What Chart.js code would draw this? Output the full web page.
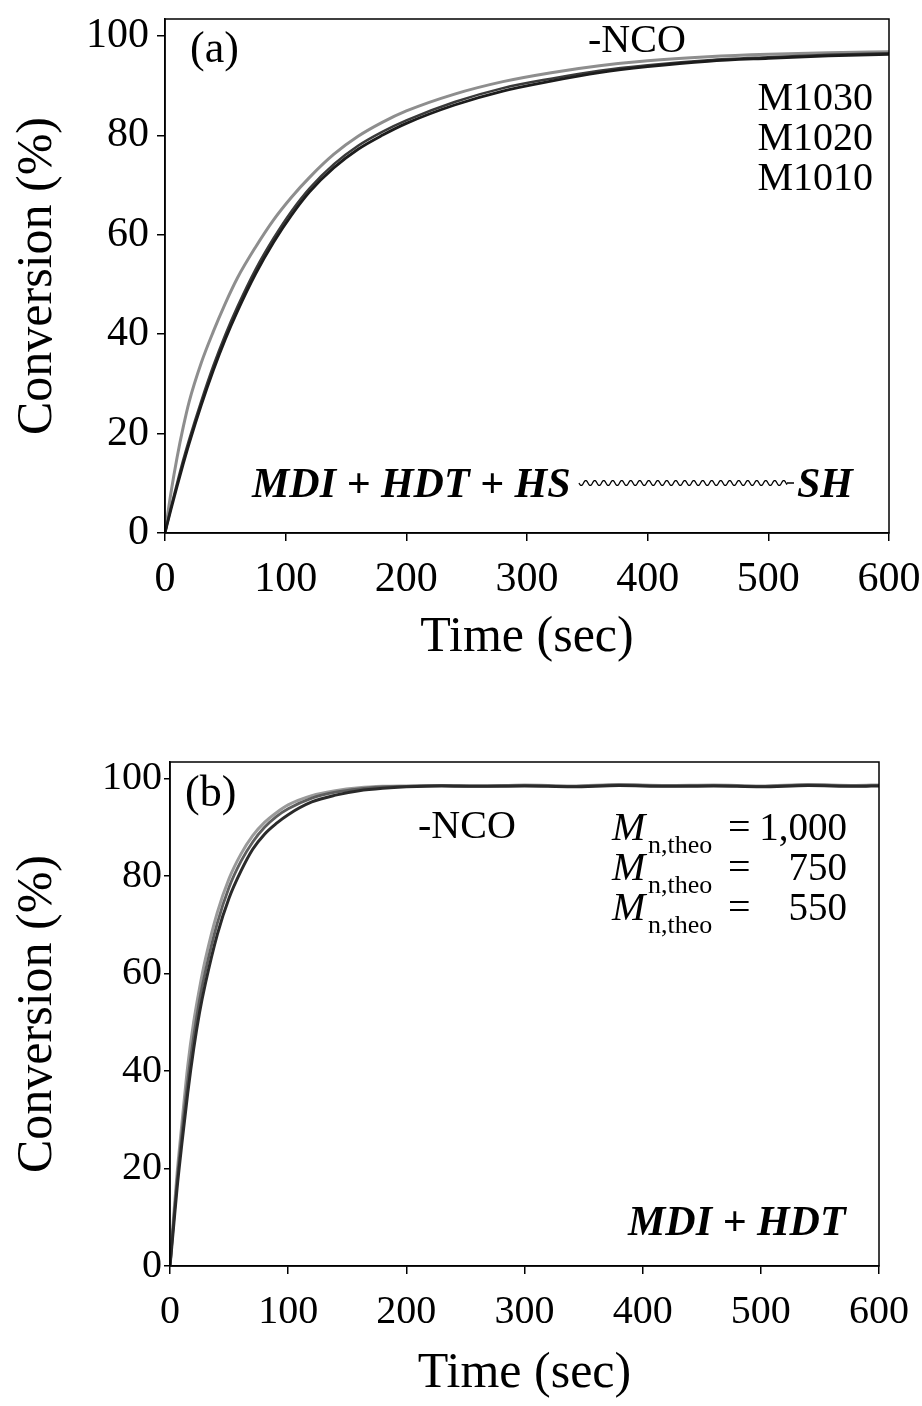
<!DOCTYPE html>
<html>
<head>
<meta charset="utf-8">
<script src="https://cdn.jsdelivr.net/npm/chart.js@4.4.0/dist/chart.umd.min.js"></script>
<style>
html, body { margin: 0; padding: 0; background: #fff; }
#wrap { position: relative; width: 922px; height: 1406px; }
canvas { position: absolute; left: 0; }
</style>
</head>
<body>
<div id="wrap">
  <canvas id="chartA" width="922" height="700" style="top:0"></canvas>
  <canvas id="chartB" width="922" height="706" style="top:700px"></canvas>
</div>
<script>
// ---- panel (a): MDI + HDT + HS~SH ----
const timeA = [0, 5, 10, 15, 20, 30, 40, 50, 60, 75, 90, 105, 120, 140, 160, 180, 200, 240, 280, 320, 360, 400, 450, 500, 550, 600];
const m1030 = [0, 8.2, 15.2, 21.2, 26.4, 34.2, 40.5, 46.2, 51.3, 57.5, 63, 67.6, 71.6, 76.2, 79.8, 82.6, 84.9, 88.3, 90.8, 92.6, 94, 95, 95.8, 96.3, 96.6, 96.8];
const m1020 = [0, 5.2, 10, 14.6, 18.8, 26.5, 33.6, 39.9, 45.5, 53, 59.3, 64.8, 69.4, 74.2, 77.9, 80.7, 83, 86.7, 89.5, 91.4, 93, 94.1, 95.1, 95.7, 96.2, 96.5];
const m1010 = [0, 4.8, 9.4, 13.8, 18, 25.7, 32.7, 39, 44.6, 52.1, 58.5, 64, 68.7, 73.5, 77.2, 80, 82.4, 86.1, 88.9, 90.9, 92.6, 93.8, 94.9, 95.5, 96, 96.3];

// ---- panel (b): MDI + HDT ----
const timeB = [0, 3, 6, 10, 15, 20, 25, 30, 40, 50, 60, 70, 80, 90, 100, 120, 140, 160, 180, 200, 230, 260, 300, 340, 380, 420, 460, 500, 540, 580, 600];
const mn550 = [0, 10, 19, 29, 41, 50, 57, 63, 72.5, 79.5, 84.5, 88.3, 91, 93, 94.6, 96.5, 97.5, 98.1, 98.4, 98.5, 98.6, 98.4, 98.7, 98.5, 98.8, 98.6, 98.7, 98.5, 98.8, 98.6, 98.7];
const mn750 = [0, 9, 17.5, 27, 38, 47, 54.5, 60.5, 70.3, 77.7, 83, 87, 90, 92.2, 93.8, 96, 97.2, 97.9, 98.3, 98.4, 98.6, 98.5, 98.6, 98.4, 98.7, 98.5, 98.6, 98.4, 98.7, 98.5, 98.6];
const mn1000 = [0, 8, 16, 25, 35.5, 44.5, 52, 58, 68, 75.5, 81, 85.5, 88.6, 90.8, 92.6, 95.2, 96.6, 97.5, 98, 98.3, 98.5, 98.4, 98.5, 98.3, 98.6, 98.4, 98.5, 98.3, 98.6, 98.4, 98.5];

const xTicks = [0, 100, 200, 300, 400, 500, 600];
const yTicks = [0, 20, 40, 60, 80, 100];

const SERIF = '"Liberation Serif", "Times New Roman", serif';

function pts(xs, ys) {
    return xs.map((x, i) => ({ x: x, y: ys[i] }));
}

function line(label, xs, ys, color, width) {
    return {
        label: label,
        data: pts(xs, ys),
        borderColor: color,
        borderWidth: width,
        pointRadius: 0,
        fill: false,
        cubicInterpolationMode: 'monotone'
    };
}

// frame round the plot area + free text labels
const decorPlugin = {
    id: 'decor',
    afterDatasetsDraw(chart, args, opts) {
        const ctx = chart.ctx;
        const a = chart.chartArea;
        ctx.save();
        ctx.strokeStyle = '#000';
        ctx.lineWidth = 1.5;
        ctx.strokeRect(a.left, a.top, a.right - a.left, a.bottom - a.top);
        ctx.fillStyle = '#000';
        ctx.textBaseline = 'alphabetic';
        (opts.labels || []).forEach(function(l) {
            ctx.font = l.font;
            ctx.textAlign = l.align || 'left';
            ctx.fillText(l.text, l.x, l.y);
        });
        if (opts.wave) {
            // wavy chain between HS and SH
            const w = opts.wave;
            ctx.lineWidth = 1.3;
            ctx.beginPath();
            for (let x = w.x0; x <= w.x1; x += 0.5) {
                const y = w.y + 2.5 * Math.sin((x - w.x0) / w.period * 2 * Math.PI);
                if (x === w.x0) ctx.moveTo(x, y); else ctx.lineTo(x, y);
            }
            ctx.moveTo(w.x1, w.y);
            ctx.lineTo(w.x1 + 7, w.y);
            ctx.stroke();
        }
        ctx.restore();
    }
};

function makeChart(id, datasets, box, fonts, decor) {
    return new Chart(document.getElementById(id), {
        type: 'line',
        data: { datasets: datasets },
        plugins: [decorPlugin],
        options: {
            responsive: false,
            animation: false,
            devicePixelRatio: 1,
            layout: { padding: { top: box.top, right: box.right, left: 0, bottom: 0 } },
            plugins: {
                legend: { display: false },
                tooltip: { enabled: false },
                decor: decor
            },
            scales: {
                x: {
                    type: 'linear',
                    min: 0,
                    max: 600,
                    afterBuildTicks: s => { s.ticks = xTicks.map(v => ({ value: v })); },
                    afterFit: s => { s.height = box.xHeight; s.paddingLeft = 0; s.paddingRight = 0; },
                    ticks: {
                        color: '#000',
                        font: { family: SERIF, size: fonts.tick },
                        padding: box.xTickPad,
                        maxRotation: 0
                    },
                    grid: { drawOnChartArea: false, tickLength: 8, color: '#000', lineWidth: 1.5 },
                    border: { display: true, color: '#000', width: 1.5 },
                    title: {
                        display: true,
                        text: 'Time (sec)',
                        color: '#000',
                        font: { family: SERIF, size: fonts.title },
                        padding: { top: 0, bottom: box.xTitlePad }
                    }
                },
                y: {
                    min: 0,
                    max: 103.4,
                    afterBuildTicks: s => { s.ticks = yTicks.map(v => ({ value: v })); },
                    afterFit: s => { s.width = box.yWidth; s.paddingTop = 0; s.paddingBottom = 0; },
                    ticks: {
                        color: '#000',
                        font: { family: SERIF, size: fonts.tick },
                        padding: box.yTickPad
                    },
                    grid: { drawOnChartArea: false, tickLength: box.yTickLen, color: '#000', lineWidth: 1.5 },
                    border: { display: true, color: '#000', width: 1.5 },
                    title: {
                        display: true,
                        text: 'Conversion (%)',
                        color: '#000',
                        font: { family: SERIF, size: fonts.title },
                        padding: { top: 8, bottom: 0 }
                    }
                }
            }
        }
    });
}

const F = size => size + 'px ' + SERIF;
const FI = size => 'italic ' + size + 'px ' + SERIF;
const FBI = size => 'italic bold ' + size + 'px ' + SERIF;

// panel (a)
makeChart('chartA', [
    line('M1010', timeA, m1010, '#1c1c1c', 2.8),
    line('M1020', timeA, m1020, '#3a3a3a', 2.5),
    line('M1030', timeA, m1030, '#8e8e8e', 3)
], { top: 19, right: 33, yWidth: 165, xHeight: 167, xTickPad: 14, yTickPad: 8, yTickLen: 8, xTitlePad: 32 },
   { tick: 42, title: 50 },
   {
    labels: [
        { text: '(a)', x: 190, y: 62, font: F(44) },
        { text: '-NCO', x: 588, y: 52, font: F(40) },
        { text: 'M1030', x: 873, y: 110, font: F(40), align: 'right' },
        { text: 'M1020', x: 873, y: 150, font: F(40), align: 'right' },
        { text: 'M1010', x: 873, y: 190, font: F(40), align: 'right' },
        { text: 'MDI + HDT + HS', x: 252, y: 497, font: FBI(42) },
        { text: 'SH', x: 797, y: 497, font: FBI(42) }
    ],
    wave: { x0: 579, x1: 787, y: 483, period: 9 }
});

// panel (b)
const mRows = [['1,000', 140], ['750', 180], ['550', 220]];
const mLines = [];
mRows.forEach(function(r) {
    mLines.push({ text: 'M', x: 612, y: r[1], font: FI(40) });
    mLines.push({ text: 'n,theo', x: 648, y: r[1] + 13, font: F(26) });
    mLines.push({ text: '=', x: 728, y: r[1], font: F(40) });
    mLines.push({ text: r[0], x: 847, y: r[1], font: F(39), align: 'right' });
});

makeChart('chartB', [
    line('1000', timeB, mn1000, '#2a2a2a', 3),
    line('750', timeB, mn750, '#5e5e5e', 2.8),
    line('550', timeB, mn550, '#9a9a9a', 3)
], { top: 62, right: 43, yWidth: 170, xHeight: 140, xTickPad: 14, yTickPad: 2, yTickLen: 6, xTitlePad: 2 },
   { tick: 40, title: 50 },
   {
    labels: [
        { text: '(b)', x: 185, y: 106, font: F(44) },
        { text: '-NCO', x: 418, y: 138, font: F(40) },
        { text: 'MDI + HDT', x: 628, y: 535, font: FBI(42) }
    ].concat(mLines)
});
</script>
</body>
</html>
